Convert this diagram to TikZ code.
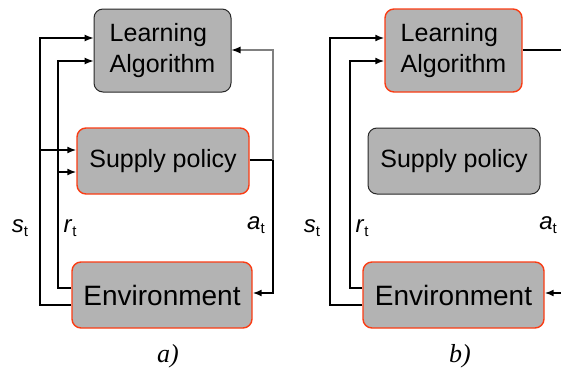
\documentclass[tikz,border=0pt]{standalone}
\usepackage{fontspec}
\setmainfont{Liberation Sans}
\newfontfamily\capfont{Liberation Serif}
\usetikzlibrary{arrows.meta}
\usetikzlibrary{positioning}
\definecolor{boxgray}{RGB}{179,179,179}
\definecolor{edgered}{RGB}{250,60,20}
\definecolor{edgedark}{RGB}{40,40,40}
\definecolor{wiregray}{RGB}{128,128,128}
\tikzset{box/.style = {rectangle, rounded corners=9pt, fill=boxgray, inner sep=0pt,
                       font=\fontsize{25}{31}\selectfont},
         active/.style = {box, draw=edgered, line width=1.4pt},
         idle/.style = {box, draw=edgedark, line width=1pt},
         wire/.style = {line width=1.6pt},
         thinwire/.style = {line width=1.1pt},
         caption/.style = {font=\capfont\itshape\fontsize{26}{26}\selectfont},
         >={Latex[length=9pt,width=7pt]}}
\newcommand{\sig}[2]{\fontsize{24}{24}\selectfont\textit{#1}\raisebox{-4pt}{\fontsize{15}{15}\selectfont #2}}

\begin{document}
\begin{tikzpicture}[x=1pt, y=-1pt]
    \useasboundingbox (0,0) rectangle (561,372);

    % a)
    \node [idle, minimum width=137pt, minimum height=83pt, align=left] (la_a) at (162.5,50.5) {Learning\\Algorithm};
    \node [active, minimum width=172pt, minimum height=66pt] (sp_a) at (163,161) {Supply policy};
    \node [active, minimum width=180pt, minimum height=66pt,
           font=\fontsize{28}{30}\selectfont] (env_a) at (162,295) {Environment};

    \draw [wire, ->] (env_a.west |- 0,305) -| (40,150) -- (sp_a.west |- 0,150);
    \draw [thinwire, ->] (40,150) |- (la_a.west |- 0,38);
    \draw [wire, ->] (env_a.west |- 0,288) -| (58,172) -- (sp_a.west |- 0,172);
    \draw [thinwire, ->] (58,172) |- (la_a.west |- 0,61);
    \draw [wire, ->] (sp_a.east |- 0,160) -| (273,293) -- (env_a.east |- 0,293);
    \draw [thinwire, wiregray, -{Latex[length=9pt,width=7pt,black]}] (273,160) |- (la_a.east |- 0,50);

    \node (s_a) at (20,228) {\sig{s}{t}};
    \node (r_a) at (70,228) {\sig{r}{t}};
    \node (a_a) at (256,225) {\sig{a}{t}};
    \node [caption] (cap_a) at (168,356) {a)};

    % b)
    \node [active, minimum width=137pt, minimum height=83pt, align=left] (la_b) at (453.5,50.5) {Learning\\Algorithm};
    \node [idle, minimum width=172pt, minimum height=66pt] (sp_b) at (454,161) {Supply policy};
    \node [active, minimum width=181pt, minimum height=66pt,
           font=\fontsize{28}{30}\selectfont] (env_b) at (453.5,295) {Environment};
    \coordinate (out_b) at (561,50);
    \coordinate (in_b) at (561,293);

    \draw [wire, ->] (env_b.west |- 0,305) -| (330,38) -- (la_b.west |- 0,38);
    \draw [wire, ->] (env_b.west |- 0,288) -| (350,61) -- (la_b.west |- 0,61);
    \draw [wire] (la_b.east |- 0,50) -- (out_b);
    \draw [wire, ->] (in_b) -- (env_b.east |- 0,293);

    \node (s_b) at (312,228) {\sig{s}{t}};
    \node (r_b) at (362,228) {\sig{r}{t}};
    \node (a_b) at (548,225) {\sig{a}{t}};
    \node [caption] (cap_b) at (460,356) {b)};
\end{tikzpicture}
\end{document}
